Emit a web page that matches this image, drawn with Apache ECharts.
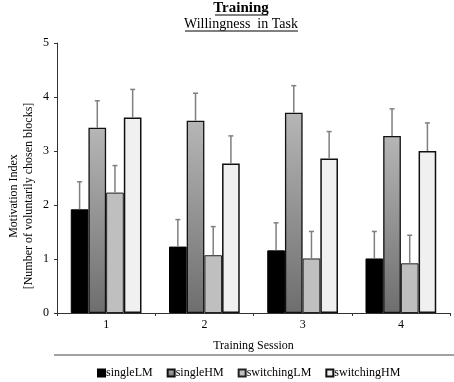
<!DOCTYPE html>
<html>
<head>
<meta charset="utf-8">
<script src="https://cdn.jsdelivr.net/npm/echarts@6/dist/echarts.min.js"></script>
<style>
  html, body { margin: 0; padding: 0; background: #fff; }
  #chart { width: 454px; height: 382px; }
</style>
</head>
<body>
<div id="chart"></div>
<script>
const sessions = ['1', '2', '3', '4']
const seriesNames = ['singleLM', 'singleHM', 'switchingLM', 'switchingHM']
const singleLM = [1.92, 1.23, 1.16, 1.01]
const singleHM = [3.43, 3.56, 3.71, 3.28]
const switchingLM = [2.23, 1.07, 1.01, 0.92]
const switchingHM = [3.62, 2.77, 2.86, 3.00]
const singleLMErr = [0.51, 0.50, 0.51, 0.50]
const singleHMErr = [0.50, 0.51, 0.50, 0.50]
const switchingLMErr = [0.50, 0.53, 0.50, 0.52]
const switchingHMErr = [0.52, 0.51, 0.50, 0.52]
const yTicks = [0, 1, 2, 3, 4, 5]

const values = [singleLM, singleHM, switchingLM, switchingHM]
const errors = [singleLMErr, singleHMErr, switchingLMErr, switchingHMErr]

const font = '"Liberation Serif", "Times New Roman", serif'
const catGap = 0.28

const styles = [
  { color: '#000000', borderColor: '#000000', borderWidth: 1 },
  {
    color: new echarts.graphic.LinearGradient(0, 0, 0, 1, [
      { offset: 0, color: '#b6b6b6' },
      { offset: 1, color: '#6e6e6e' }
    ]),
    borderColor: '#111',
    borderWidth: 1.3
  },
  { color: '#bfbfbf', borderColor: '#222', borderWidth: 1 },
  { color: '#f0f0f0', borderColor: '#111', borderWidth: 1.5 }
]

const chart = echarts.init(document.getElementById('chart'))

// upward-only error bars, placed over each bar of the group
const errorSeries = (k) => ({
  type: 'custom',
  name: seriesNames[k] + ' err',
  z: 5,
  silent: true,
  data: sessions.map((s, i) => [i, values[k][i], errors[k][i]]),
  renderItem: (params, api) => {
    const i = api.value(0)
    const base = api.coord([i, api.value(1)])
    const top = api.coord([i, api.value(1) + api.value(2)])
    const band = api.size([1, 0])[0]
    const barW = band * (1 - catGap) / 4
    const x = base[0] + (k - 1.5) * barW
    const st = { stroke: '#7f7f7f', lineWidth: 1.5 }
    return {
      type: 'group',
      children: [
        { type: 'line', shape: { x1: x, y1: base[1], x2: x, y2: top[1] }, style: st },
        { type: 'line', shape: { x1: x - 2.5, y1: top[1], x2: x + 2.5, y2: top[1] }, style: st }
      ]
    }
  }
})

const option = {
  backgroundColor: '#fff',
  animation: false,
  textStyle: { fontFamily: font },
  grid: { left: 57, right: 4, top: 43, bottom: 69 },
  legend: {
    data: seriesNames,
    left: 92,
    top: 362,
    itemWidth: 7,
    itemHeight: 7,
    itemGap: 14,
    icon: 'rect',
    textStyle: { fontFamily: font, fontSize: 12, color: '#000', padding: [0, 0, 0, -4] }
  },
  xAxis: {
    type: 'category',
    data: sessions,
    name: 'Training Session',
    nameLocation: 'middle',
    nameGap: 27,
    nameTextStyle: { fontFamily: font, fontSize: 12, color: '#000' },
    axisLine: { lineStyle: { color: '#333', width: 1 } },
    axisTick: { show: true, length: 3, lineStyle: { color: '#333' } },
    axisLabel: { fontFamily: font, fontSize: 12, color: '#000', margin: 6 }
  },
  yAxis: {
    type: 'value',
    min: 0,
    max: 5,
    interval: 1,
    axisLine: { show: true, lineStyle: { color: '#333', width: 1 } },
    axisTick: { show: true, length: 3, lineStyle: { color: '#333' } },
    axisLabel: { fontFamily: font, fontSize: 12, color: '#000', margin: 8,
      formatter: (v) => yTicks.includes(v) ? String(v) : '' },
    splitLine: { show: false }
  },
  series: [
    ...seriesNames.map((name, k) => ({
      type: 'bar',
      name: name,
      data: values[k],
      barGap: '0%',
      barCategoryGap: (catGap * 100) + '%',
      itemStyle: styles[k]
    })),
    ...seriesNames.map((name, k) => errorSeries(k))
  ],
  graphic: [
    { type: 'text', x: 241, y: 1, style: { text: 'Training', font: 'bold 15px ' + font, fill: '#000', textAlign: 'center' } },
    { type: 'line', shape: { x1: 215, y1: 15, x2: 268, y2: 15 }, style: { stroke: '#000', lineWidth: 1 } },
    { type: 'text', x: 241, y: 17, style: { text: 'Willingness  in Task', font: '14px ' + font, fill: '#000', textAlign: 'center' } },
    { type: 'line', shape: { x1: 185, y1: 31, x2: 298, y2: 31 }, style: { stroke: '#000', lineWidth: 1 } },
    { type: 'text', x: 21, y: 196, rotation: Math.PI / 2,
      style: { text: 'Motivation Index\n[Number of voluntarily chosen blocks]', font: '12px ' + font, fill: '#000',
        textAlign: 'center', textVerticalAlign: 'middle', lineHeight: 15 } },
    { type: 'line', shape: { x1: 54, y1: 355, x2: 454, y2: 355 }, style: { stroke: '#444', lineWidth: 1 } }
  ]
}

chart.setOption(option)
</script>
</body>
</html>
